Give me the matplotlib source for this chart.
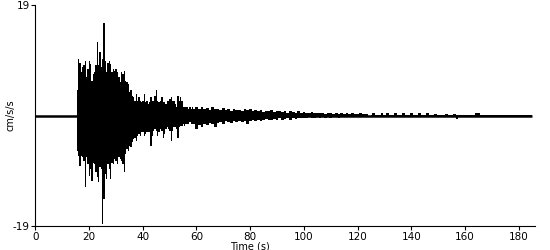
import numpy as np
import matplotlib.pyplot as plt

# record span and onset of shaking
record_t = [0, 185]
onset = 15.6

# strong-motion part, positive / negative peaks every 0.5 s (cm/s/s)
early_step = 0.5
early_up = [4.4, 9.7, 9.1, 7.4, 8.3, 8.6, 9.4, 6.6, 8.0, 9.4,
            8.9, 6.0, 7.1, 7.4, 8.6, 12.6, 8.6, 10.9, 8.3, 9.7,
            15.9, 9.4, 7.4, 9.1, 9.4, 8.9, 7.4, 8.0, 7.7, 8.0,
            7.4, 6.6, 5.7, 7.4, 7.1, 7.7, 6.0, 5.7, 5.4, 4.0,
            4.3, 3.4, 3.1, 2.5, 3.7, 2.5, 3.1, 2.5, 2.3, 2.5,
            3.7, 2.3, 2.5, 2.0, 2.3, 3.1, 2.5, 2.5, 3.4, 4.4,
            2.5, 2.3, 2.5, 3.1, 2.3, 2.3, 2.0, 2.5, 2.5, 2.8,
            3.2, 2.5, 2.5, 2.0, 1.4, 3.4, 2.5, 3.1, 2.5, 1.5,
            1.4, 1.5, 1.4, 1.1, 1.4, 1.1, 1.4, 1.1, 1.4, 1.1]
early_lo = [-6.1, -6.9, -8.6, -6.9, -7.2, -7.8, -12.3, -7.2, -8.4, -10.4,
            -9.2, -11.2, -8.1, -8.4, -9.8, -10.6, -11.5, -8.9, -9.2, -18.7,
            -14.4, -10.1, -11.0, -8.4, -9.2, -11.0, -8.1, -8.4, -7.5, -7.8,
            -8.4, -7.2, -7.5, -7.8, -8.4, -9.8, -6.6, -5.8, -6.1, -5.2,
            -5.5, -4.6, -4.0, -3.8, -4.3, -3.5, -3.2, -3.5, -2.9, -2.9,
            -3.5, -3.2, -2.9, -2.9, -2.9, -5.2, -3.5, -2.6, -2.3, -2.6,
            -3.5, -2.9, -2.3, -2.6, -3.8, -3.2, -2.3, -2.0, -2.3, -2.6,
            -4.3, -2.6, -2.0, -2.0, -2.3, -3.8, -2.0, -1.8, -1.8, -1.5,
            -1.8, -1.5, -1.5, -1.5, -1.2, -1.5, -1.5, -1.5, -2.3, -2.0]

# coda, peaks every 1 s from 60 s to 124 s
coda_start = 60
coda_up = [1.4, 1.2, 1.5, 1.1, 1.3, 1.0, 1.4, 1.1, 1.2, 0.9,
           1.3, 1.0, 1.1, 0.8, 1.2, 0.9, 1.0, 0.8, 1.1, 0.9,
           1.2, 0.7, 0.9, 0.8, 1.0, 0.6, 0.8, 0.7, 0.9, 0.6,
           0.7, 0.8, 0.6, 0.7, 0.5, 0.8, 0.6, 0.5, 0.7, 0.5,
           0.6, 0.4, 0.5, 0.6, 0.4, 0.5, 0.4, 0.5, 0.3, 0.5,
           0.4, 0.3, 0.5, 0.3, 0.4, 0.3, 0.4, 0.3, 0.4, 0.3,
           0.3, 0.4, 0.2, 0.3, 0.2]
coda_lo = [-2.3, -1.6, -2.0, -1.4, -1.7, -1.3, -1.5, -2.0, -1.3, -1.1,
           -1.4, -1.0, -1.2, -1.3, -0.9, -1.1, -1.0, -1.2, -0.9, -1.4,
           -0.9, -0.8, -1.0, -0.7, -0.9, -0.8, -0.6, -0.8, -0.7, -0.6,
           -0.8, -0.5, -0.7, -0.6, -0.5, -0.7, -0.5, -0.6, -0.4, -0.5,
           -0.4, -0.5, -0.3, -0.4, -0.5, -0.3, -0.4, -0.3, -0.4, -0.3,
           -0.4, -0.3, -0.3, -0.4, -0.3, -0.2, -0.3, -0.3, -0.2, -0.3,
           -0.2, -0.3, -0.2, -0.2, -0.2]

# small blips in the quiet tail, 125 s to 185 s
tail_start = 125
tail_up = [0.1, 0.35, 0.1, 0.1, 0.35, 0.1, 0.35, 0.1, 0.1, 0.35,
           0.1, 0.1, 0.35, 0.1, 0.1, 0.35, 0.1, 0.1, 0.35, 0.1,
           0.1, 0.35, 0.1, 0.1, 0.3, 0.1, 0.1, 0.1, 0.3, 0.1,
           0.1, 0.3, 0.1, 0.1, 0.1, 0.1, 0.1, 0.1, 0.1, 0.4,
           0.35, 0.1, 0.1, 0.1, 0.1, 0.1, 0.1, 0.1, 0.1, 0.1,
           0.1, 0.1, 0.1, 0.1, 0.1, 0.1, 0.1, 0.1, 0.1, 0.1,
           0.1]
tail_lo = [-0.1, -0.1, -0.3, -0.1, -0.1, -0.1, -0.1, -0.1, -0.3, -0.1,
           -0.1, -0.1, -0.1, -0.1, -0.1, -0.1, -0.3, -0.1, -0.1, -0.1,
           -0.1, -0.1, -0.3, -0.1, -0.1, -0.1, -0.1, -0.1, -0.1, -0.1,
           -0.1, -0.1, -0.6, -0.1, -0.1, -0.1, -0.1, -0.1, -0.1, -0.1,
           -0.3, -0.1, -0.1, -0.1, -0.1, -0.1, -0.1, -0.1, -0.1, -0.1,
           -0.1, -0.1, -0.1, -0.1, -0.1, -0.1, -0.1, -0.1, -0.1, -0.1,
           -0.1]

xticks = [0, 20, 40, 60, 80, 100, 120, 140, 160, 180]
ymax = 19

fig = plt.figure(figsize=(5.5, 2.5), dpi=100)
ax = fig.add_axes([0.0642, 0.096, 0.9085, 0.884])

# baseline of the record
ax.plot(record_t, [0, 0], color="black", lw=1.8, solid_capstyle="butt")

for t0, step, up, lo in [(onset, early_step, early_up, early_lo),
                         (coda_start, 1.0, coda_up, coda_lo),
                         (tail_start, 1.0, tail_up, tail_lo)]:
    t = t0 + step * np.arange(len(up))
    ax.fill_between(t, lo, up, step="mid", color="black", lw=0)

ax.set_xlim(0, 186)
ax.set_ylim(-ymax, ymax)
ax.set_xticks(xticks)
ax.set_yticks([-ymax, ymax])
ax.set_yticklabels(["-19", "19"])
ax.tick_params(labelsize=7.5, length=3, pad=1, color="black")
ax.spines["top"].set_visible(False)
ax.spines["right"].set_visible(False)
ax.set_xlabel("Time (s)", fontsize=7, va="top")
ax.xaxis.set_label_coords(0.43, -0.068)
ax.set_ylabel("cm/s/s", fontsize=7)
ax.yaxis.set_label_coords(-0.04, 0.5)

fig.savefig("out.png", dpi=100)
